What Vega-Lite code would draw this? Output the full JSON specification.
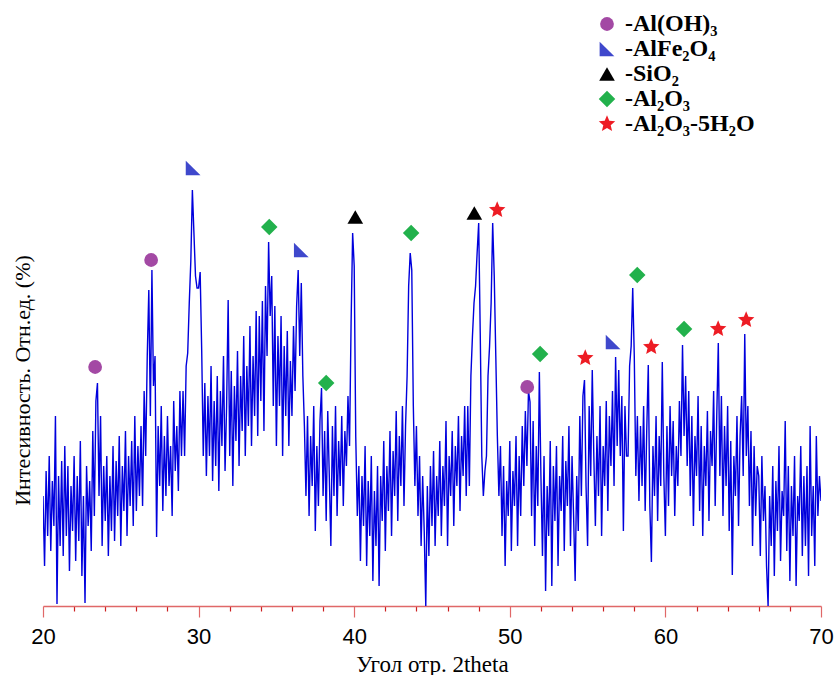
{
  "$schema": "https://vega.github.io/schema/vega-lite/v6.json",
  "autosize": {"type": "none"},
  "padding": {"left": 43, "top": 0, "right": 17, "bottom": 69},
  "width": 778,
  "height": 606,
  "background": "white",
  "config": {"view": {"stroke": null}},
  "datasets": {
    "xrd": [
      {"t":20.0,"i":110},{"t":20.1,"i":40},{"t":20.2,"i":135},{"t":20.3,"i":70},{"t":20.4,"i":150},{"t":20.5,"i":55},{"t":20.6,"i":125},{"t":20.7,"i":80},{"t":20.8,"i":190},{"t":20.9,"i":2},
      {"t":21.0,"i":130},{"t":21.1,"i":60},{"t":21.2,"i":145},{"t":21.3,"i":50},{"t":21.4,"i":160},{"t":21.5,"i":70},{"t":21.6,"i":140},{"t":21.7,"i":35},{"t":21.8,"i":120},{"t":21.9,"i":75},
      {"t":22.0,"i":150},{"t":22.1,"i":45},{"t":22.2,"i":130},{"t":22.3,"i":65},{"t":22.4,"i":165},{"t":22.5,"i":30},{"t":22.6,"i":110},{"t":22.7,"i":3},{"t":22.8,"i":140},{"t":22.9,"i":80},
      {"t":23.0,"i":125},{"t":23.1,"i":55},{"t":23.2,"i":175},{"t":23.3,"i":90},{"t":23.4,"i":205},{"t":23.5,"i":223},{"t":23.6,"i":110},{"t":23.7,"i":190},{"t":23.8,"i":60},{"t":23.9,"i":140},
      {"t":24.0,"i":85},{"t":24.1,"i":150},{"t":24.2,"i":50},{"t":24.3,"i":130},{"t":24.4,"i":75},{"t":24.5,"i":160},{"t":24.6,"i":65},{"t":24.7,"i":145},{"t":24.8,"i":90},{"t":24.9,"i":170},
      {"t":25.0,"i":60},{"t":25.1,"i":140},{"t":25.2,"i":95},{"t":25.3,"i":175},{"t":25.4,"i":70},{"t":25.5,"i":150},{"t":25.6,"i":100},{"t":25.7,"i":165},{"t":25.8,"i":80},{"t":25.9,"i":190},
      {"t":26.0,"i":95},{"t":26.1,"i":160},{"t":26.2,"i":110},{"t":26.3,"i":180},{"t":26.4,"i":100},{"t":26.5,"i":215},{"t":26.6,"i":150},{"t":26.7,"i":250},{"t":26.8,"i":316},{"t":26.9,"i":190},
      {"t":27.0,"i":336},{"t":27.1,"i":220},{"t":27.2,"i":250},{"t":27.3,"i":69},{"t":27.4,"i":180},{"t":27.5,"i":120},{"t":27.6,"i":200},{"t":27.7,"i":95},{"t":27.8,"i":170},{"t":27.9,"i":110},
      {"t":28.0,"i":190},{"t":28.1,"i":120},{"t":28.2,"i":160},{"t":28.3,"i":90},{"t":28.4,"i":205},{"t":28.5,"i":135},{"t":28.6,"i":180},{"t":28.7,"i":115},{"t":28.8,"i":215},{"t":28.9,"i":150},
      {"t":29.0,"i":215},{"t":29.1,"i":150},{"t":29.2,"i":240},{"t":29.3,"i":253},{"t":29.4,"i":303},{"t":29.5,"i":345},{"t":29.6,"i":416},{"t":29.7,"i":373},{"t":29.8,"i":330},{"t":29.9,"i":318},
      {"t":30.0,"i":318},{"t":30.1,"i":334},{"t":30.2,"i":255},{"t":30.3,"i":150},{"t":30.4,"i":223},{"t":30.5,"i":130},{"t":30.6,"i":210},{"t":30.7,"i":150},{"t":30.8,"i":240},{"t":30.9,"i":125},
      {"t":31.0,"i":205},{"t":31.1,"i":140},{"t":31.2,"i":230},{"t":31.3,"i":115},{"t":31.4,"i":215},{"t":31.5,"i":160},{"t":31.6,"i":250},{"t":31.7,"i":135},{"t":31.8,"i":200},{"t":31.9,"i":306},
      {"t":32.0,"i":150},{"t":32.1,"i":235},{"t":32.2,"i":120},{"t":32.3,"i":220},{"t":32.4,"i":165},{"t":32.5,"i":255},{"t":32.6,"i":140},{"t":32.7,"i":230},{"t":32.8,"i":175},{"t":32.9,"i":270},
      {"t":33.0,"i":150},{"t":33.1,"i":240},{"t":33.2,"i":180},{"t":33.3,"i":280},{"t":33.4,"i":160},{"t":33.5,"i":250},{"t":33.6,"i":190},{"t":33.7,"i":295},{"t":33.8,"i":170},{"t":33.9,"i":290},
      {"t":34.0,"i":205},{"t":34.1,"i":305},{"t":34.2,"i":175},{"t":34.3,"i":320},{"t":34.4,"i":250},{"t":34.5,"i":364},{"t":34.6,"i":290},{"t":34.7,"i":330},{"t":34.8,"i":200},{"t":34.9,"i":300},
      {"t":35.0,"i":160},{"t":35.1,"i":270},{"t":35.2,"i":200},{"t":35.3,"i":290},{"t":35.4,"i":150},{"t":35.5,"i":260},{"t":35.6,"i":190},{"t":35.7,"i":275},{"t":35.8,"i":160},{"t":35.9,"i":245},
      {"t":36.0,"i":190},{"t":36.1,"i":280},{"t":36.2,"i":215},{"t":36.3,"i":300},{"t":36.4,"i":336},{"t":36.5,"i":250},{"t":36.6,"i":323},{"t":36.7,"i":230},{"t":36.8,"i":180},{"t":36.9,"i":110},
      {"t":37.0,"i":190},{"t":37.1,"i":90},{"t":37.2,"i":170},{"t":37.3,"i":120},{"t":37.4,"i":200},{"t":37.5,"i":75},{"t":37.6,"i":160},{"t":37.7,"i":100},{"t":37.8,"i":185},{"t":37.9,"i":218},
      {"t":38.0,"i":110},{"t":38.1,"i":175},{"t":38.2,"i":85},{"t":38.3,"i":195},{"t":38.4,"i":130},{"t":38.5,"i":60},{"t":38.6,"i":180},{"t":38.7,"i":110},{"t":38.8,"i":200},{"t":38.9,"i":90},
      {"t":39.0,"i":165},{"t":39.1,"i":120},{"t":39.2,"i":190},{"t":39.3,"i":100},{"t":39.4,"i":175},{"t":39.5,"i":140},{"t":39.6,"i":210},{"t":39.7,"i":160},{"t":39.8,"i":283},{"t":39.9,"i":373},
      {"t":40.0,"i":340},{"t":40.1,"i":169},{"t":40.2,"i":90},{"t":40.3,"i":140},{"t":40.4,"i":45},{"t":40.5,"i":130},{"t":40.6,"i":80},{"t":40.7,"i":160},{"t":40.8,"i":40},{"t":40.9,"i":125},
      {"t":41.0,"i":70},{"t":41.1,"i":150},{"t":41.2,"i":25},{"t":41.3,"i":115},{"t":41.4,"i":60},{"t":41.5,"i":140},{"t":41.6,"i":20},{"t":41.7,"i":130},{"t":41.8,"i":85},{"t":41.9,"i":165},
      {"t":42.0,"i":55},{"t":42.1,"i":140},{"t":42.2,"i":95},{"t":42.3,"i":175},{"t":42.4,"i":70},{"t":42.5,"i":155},{"t":42.6,"i":110},{"t":42.7,"i":195},{"t":42.8,"i":85},{"t":42.9,"i":170},
      {"t":43.0,"i":120},{"t":43.1,"i":200},{"t":43.2,"i":100},{"t":43.3,"i":180},{"t":43.4,"i":230},{"t":43.5,"i":320},{"t":43.6,"i":353},{"t":43.7,"i":336},{"t":43.8,"i":200},{"t":43.9,"i":120},
      {"t":44.0,"i":180},{"t":44.1,"i":90},{"t":44.2,"i":150},{"t":44.3,"i":60},{"t":44.4,"i":130},{"t":44.5,"i":75},{"t":44.6,"i":0},{"t":44.7,"i":120},{"t":44.8,"i":50},{"t":44.9,"i":140},
      {"t":45.0,"i":80},{"t":45.1,"i":155},{"t":45.2,"i":60},{"t":45.3,"i":130},{"t":45.4,"i":90},{"t":45.5,"i":165},{"t":45.6,"i":70},{"t":45.7,"i":140},{"t":45.8,"i":100},{"t":45.9,"i":185},
      {"t":46.0,"i":60},{"t":46.1,"i":150},{"t":46.2,"i":110},{"t":46.3,"i":175},{"t":46.4,"i":80},{"t":46.5,"i":160},{"t":46.6,"i":120},{"t":46.7,"i":190},{"t":46.8,"i":95},{"t":46.9,"i":170},
      {"t":47.0,"i":130},{"t":47.1,"i":200},{"t":47.2,"i":110},{"t":47.3,"i":200},{"t":47.4,"i":120},{"t":47.5,"i":230},{"t":47.6,"i":270},{"t":47.7,"i":303},{"t":47.8,"i":320},{"t":47.9,"i":353},
      {"t":48.0,"i":383},{"t":48.1,"i":273},{"t":48.2,"i":150},{"t":48.3,"i":110},{"t":48.4,"i":135},{"t":48.5,"i":150},{"t":48.6,"i":230},{"t":48.7,"i":260},{"t":48.8,"i":303},{"t":48.9,"i":383},
      {"t":49.0,"i":330},{"t":49.1,"i":250},{"t":49.2,"i":170},{"t":49.3,"i":110},{"t":49.4,"i":160},{"t":49.5,"i":70},{"t":49.6,"i":140},{"t":49.7,"i":40},{"t":49.8,"i":125},{"t":49.9,"i":90},
      {"t":50.0,"i":165},{"t":50.1,"i":55},{"t":50.2,"i":135},{"t":50.3,"i":100},{"t":50.4,"i":170},{"t":50.5,"i":60},{"t":50.6,"i":150},{"t":50.7,"i":90},{"t":50.8,"i":180},{"t":50.9,"i":120},
      {"t":51.0,"i":195},{"t":51.1,"i":140},{"t":51.2,"i":215},{"t":51.3,"i":204},{"t":51.4,"i":90},{"t":51.5,"i":185},{"t":51.6,"i":60},{"t":51.7,"i":160},{"t":51.8,"i":100},{"t":51.9,"i":234},
      {"t":52.0,"i":130},{"t":52.1,"i":50},{"t":52.2,"i":150},{"t":52.3,"i":15},{"t":52.4,"i":120},{"t":52.5,"i":70},{"t":52.6,"i":165},{"t":52.7,"i":20},{"t":52.8,"i":140},{"t":52.9,"i":85},
      {"t":53.0,"i":160},{"t":53.1,"i":40},{"t":53.2,"i":130},{"t":53.3,"i":95},{"t":53.4,"i":170},{"t":53.5,"i":55},{"t":53.6,"i":145},{"t":53.7,"i":100},{"t":53.8,"i":180},{"t":53.9,"i":60},
      {"t":54.0,"i":150},{"t":54.1,"i":90},{"t":54.2,"i":25},{"t":54.3,"i":130},{"t":54.4,"i":75},{"t":54.5,"i":190},{"t":54.6,"i":110},{"t":54.7,"i":210},{"t":54.8,"i":226},{"t":54.9,"i":120},
      {"t":55.0,"i":60},{"t":55.1,"i":200},{"t":55.2,"i":130},{"t":55.3,"i":236},{"t":55.4,"i":150},{"t":55.5,"i":80},{"t":55.6,"i":170},{"t":55.7,"i":110},{"t":55.8,"i":200},{"t":55.9,"i":70},
      {"t":56.0,"i":160},{"t":56.1,"i":120},{"t":56.2,"i":205},{"t":56.3,"i":95},{"t":56.4,"i":190},{"t":56.5,"i":140},{"t":56.6,"i":215},{"t":56.7,"i":120},{"t":56.8,"i":249},{"t":56.9,"i":160},
      {"t":57.0,"i":236},{"t":57.1,"i":150},{"t":57.2,"i":210},{"t":57.3,"i":75},{"t":57.4,"i":200},{"t":57.5,"i":150},{"t":57.6,"i":150},{"t":57.7,"i":240},{"t":57.8,"i":260},{"t":57.9,"i":318},
      {"t":58.0,"i":250},{"t":58.1,"i":130},{"t":58.2,"i":190},{"t":58.3,"i":105},{"t":58.4,"i":180},{"t":58.5,"i":120},{"t":58.6,"i":200},{"t":58.7,"i":95},{"t":58.8,"i":175},{"t":58.9,"i":241},
      {"t":59.0,"i":100},{"t":59.1,"i":44},{"t":59.2,"i":160},{"t":59.3,"i":110},{"t":59.4,"i":190},{"t":59.5,"i":85},{"t":59.6,"i":170},{"t":59.7,"i":120},{"t":59.8,"i":244},{"t":59.9,"i":130},
      {"t":60.0,"i":70},{"t":60.1,"i":180},{"t":60.2,"i":100},{"t":60.3,"i":200},{"t":60.4,"i":130},{"t":60.5,"i":185},{"t":60.6,"i":90},{"t":60.7,"i":160},{"t":60.8,"i":120},{"t":60.9,"i":205},
      {"t":61.0,"i":150},{"t":61.1,"i":261},{"t":61.2,"i":170},{"t":61.3,"i":230},{"t":61.4,"i":140},{"t":61.5,"i":215},{"t":61.6,"i":110},{"t":61.7,"i":190},{"t":61.8,"i":80},{"t":61.9,"i":170},
      {"t":62.0,"i":130},{"t":62.1,"i":210},{"t":62.2,"i":95},{"t":62.3,"i":180},{"t":62.4,"i":70},{"t":62.5,"i":160},{"t":62.6,"i":120},{"t":62.7,"i":195},{"t":62.8,"i":85},{"t":62.9,"i":175},
      {"t":63.0,"i":140},{"t":63.1,"i":215},{"t":63.2,"i":100},{"t":63.3,"i":190},{"t":63.4,"i":263},{"t":63.5,"i":130},{"t":63.6,"i":210},{"t":63.7,"i":90},{"t":63.8,"i":180},{"t":63.9,"i":120},
      {"t":64.0,"i":200},{"t":64.1,"i":75},{"t":64.2,"i":165},{"t":64.3,"i":31},{"t":64.4,"i":150},{"t":64.5,"i":110},{"t":64.6,"i":190},{"t":64.7,"i":80},{"t":64.8,"i":170},{"t":64.9,"i":210},
      {"t":65.0,"i":130},{"t":65.1,"i":272},{"t":65.2,"i":150},{"t":65.3,"i":200},{"t":65.4,"i":100},{"t":65.5,"i":175},{"t":65.6,"i":60},{"t":65.7,"i":160},{"t":65.8,"i":90},{"t":65.9,"i":140},
      {"t":66.0,"i":130},{"t":66.1,"i":50},{"t":66.2,"i":150},{"t":66.3,"i":85},{"t":66.4,"i":120},{"t":66.5,"i":40},{"t":66.6,"i":0},{"t":66.7,"i":110},{"t":66.8,"i":60},{"t":66.9,"i":140},
      {"t":67.0,"i":30},{"t":67.1,"i":125},{"t":67.2,"i":75},{"t":67.3,"i":160},{"t":67.4,"i":45},{"t":67.5,"i":115},{"t":67.6,"i":90},{"t":67.7,"i":185},{"t":67.8,"i":55},{"t":67.9,"i":140},
      {"t":68.0,"i":25},{"t":68.1,"i":120},{"t":68.2,"i":70},{"t":68.3,"i":150},{"t":68.4,"i":20},{"t":68.5,"i":110},{"t":68.6,"i":85},{"t":68.7,"i":160},{"t":68.8,"i":50},{"t":68.9,"i":130},
      {"t":69.0,"i":60},{"t":69.1,"i":140},{"t":69.2,"i":30},{"t":69.3,"i":180},{"t":69.4,"i":70},{"t":69.5,"i":120},{"t":69.6,"i":40},{"t":69.7,"i":170},{"t":69.8,"i":90},{"t":69.9,"i":130},
      {"t":70.0,"i":105}
    ],
    "peaks": [
      {"t":23.35,"i":239,"phase":"-Al(OH)₃"},
      {"t":26.95,"i":346,"phase":"-Al(OH)₃"},
      {"t":51.12,"i":219,"phase":"-Al(OH)₃"},
      {"t":29.65,"i":438,"phase":"-AlFe₂O₄"},
      {"t":36.6,"i":356,"phase":"-AlFe₂O₄"},
      {"t":56.64,"i":264,"phase":"-AlFe₂O₄"},
      {"t":40.07,"i":389,"phase":"-SiO₂"},
      {"t":47.72,"i":393,"phase":"-SiO₂"},
      {"t":34.54,"i":379,"phase":"-Al₂O₃"},
      {"t":38.2,"i":223,"phase":"-Al₂O₃"},
      {"t":43.66,"i":373,"phase":"-Al₂O₃"},
      {"t":51.95,"i":252,"phase":"-Al₂O₃"},
      {"t":58.19,"i":331,"phase":"-Al₂O₃"},
      {"t":61.2,"i":277,"phase":"-Al₂O₃"},
      {"t":49.19,"i":396,"phase":"-Al₂O₃-5H₂O"},
      {"t":54.85,"i":248,"phase":"-Al₂O₃-5H₂O"},
      {"t":59.09,"i":259,"phase":"-Al₂O₃-5H₂O"},
      {"t":63.39,"i":277,"phase":"-Al₂O₃-5H₂O"},
      {"t":65.19,"i":286,"phase":"-Al₂O₃-5H₂O"}
    ]
  },
  "encoding": {
    "x": {
      "field": "t", "type": "quantitative",
      "scale": {"domain": [20, 70], "nice": false, "zero": false},
      "axis": {
        "orient": "bottom",
        "values": [20,22,24,26,28,30,32,34,36,38,40,42,44,46,48,50,52,54,56,58,60,62,64,66,68,70],
        "labelExpr": "datum.value % 10 === 0 ? datum.label : ''",
        "grid": false,
        "domainColor": "#e06868",
        "domainWidth": 1.5,
        "tickColor": {"condition": {"test": "datum.value % 10 === 0", "value": "#e06868"}, "value": "#cc2020"},
        "tickSize": {"condition": {"test": "datum.value % 10 === 0", "value": 11}, "value": 5},
        "tickWidth": 1.2,
        "labelFont": "Liberation Sans",
        "labelFontSize": 22,
        "labelColor": "#000000",
        "labelPadding": 9,
        "labelFlush": false,
        "labelOverlap": false,
        "title": "Угол отр. 2theta",
        "titleFont": "Liberation Serif",
        "titleFontSize": 23,
        "titleFontWeight": "normal",
        "titleColor": "#000000",
        "titleX": 389,
        "titleY": 58,
        "titleAlign": "center",
        "titleBaseline": "middle"
      }
    },
    "y": {
      "field": "i", "type": "quantitative",
      "scale": {"domain": [0, 606], "nice": false, "zero": true},
      "axis": {
        "orient": "left",
        "domain": false, "ticks": false, "labels": false, "grid": false,
        "title": "Интесивность. Отн.ед. (%)",
        "titleFont": "Liberation Serif",
        "titleFontSize": 22,
        "titleFontWeight": "normal",
        "titleColor": "#000000",
        "titleAngle": 270,
        "titleX": -21,
        "titleY": 380,
        "titleAlign": "center",
        "titleBaseline": "middle"
      }
    }
  },
  "layer": [
    {
      "data": {"name": "xrd"},
      "mark": {"type": "line", "color": "#0000dd", "strokeWidth": 1.4, "clip": true}
    },
    {
      "data": {"name": "peaks"},
      "mark": {"type": "point", "filled": true, "opacity": 1, "strokeWidth": 0},
      "encoding": {
        "color": {
          "field": "phase", "type": "nominal",
          "scale": {
            "domain": ["-Al(OH)₃", "-AlFe₂O₄", "-SiO₂", "-Al₂O₃", "-Al₂O₃-5H₂O"],
            "range": ["#a349a4", "#3f48cc", "#000000", "#22b14c", "#ed1c24"]
          },
          "legend": {
            "title": null,
            "orient": "none",
            "legendX": 552,
            "legendY": 12,
            "labelFont": "Liberation Serif",
            "labelFontWeight": "bold",
            "labelFontSize": 24,
            "labelColor": "#000000",
            "labelOffset": 6,
            "rowPadding": 1,
            "symbolStrokeWidth": 0,
            "labelLimit": 400
          }
        },
        "shape": {
          "field": "phase", "type": "nominal",
          "scale": {
            "domain": ["-Al(OH)₃", "-AlFe₂O₄", "-SiO₂", "-Al₂O₃", "-Al₂O₃-5H₂O"],
            "range": ["circle", "M -1 -1 L 1 1 L -1 1 Z", "triangle-up", "diamond", "M 0 -1 L 0.265 -0.364 L 0.951 -0.309 L 0.428 0.139 L 0.588 0.809 L 0 0.45 L -0.588 0.809 L -0.428 0.139 L -0.951 -0.309 L -0.265 -0.364 Z"]
          }
        },
        "size": {
          "field": "phase", "type": "nominal",
          "scale": {
            "domain": ["-Al(OH)₃", "-AlFe₂O₄", "-SiO₂", "-Al₂O₃", "-Al₂O₃-5H₂O"],
            "range": [190, 300, 200, 190, 400]
          }
        }
      }
    }
  ]
}
